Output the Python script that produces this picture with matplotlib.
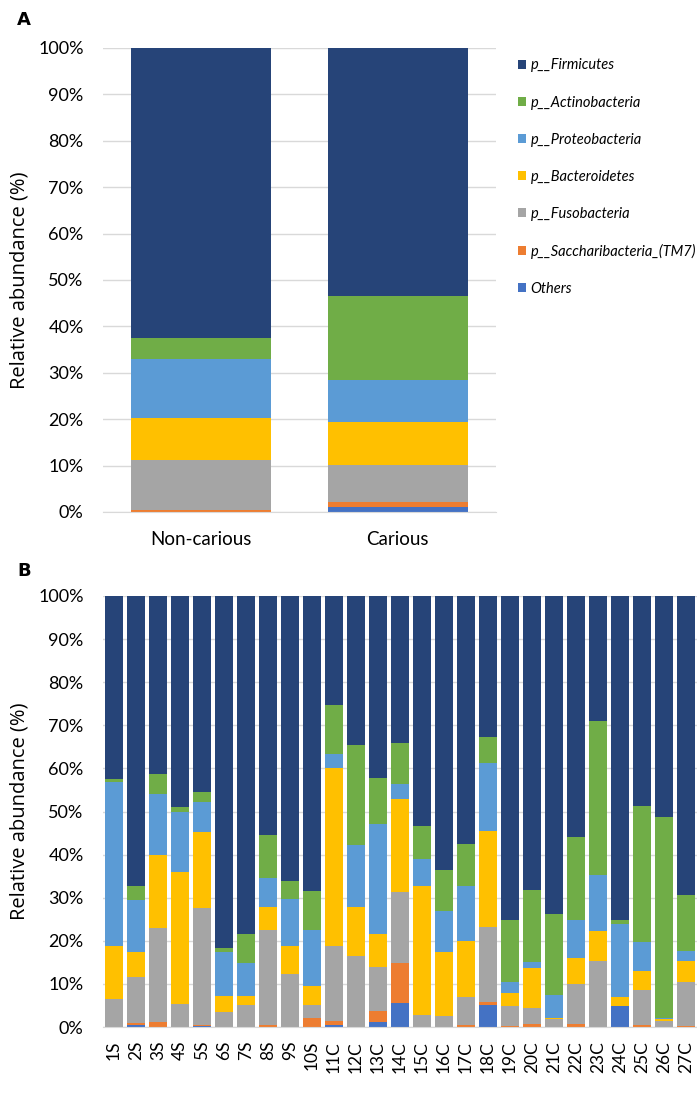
import matplotlib.pyplot as plt
import numpy as np

# phylum labels, bottom -> top stacking order
phyla = ["Others", "p__Saccharibacteria_(TM7)", "p__Fusobacteria",
         "p__Bacteroidetes", "p__Proteobacteria", "p__Actinobacteria",
         "p__Firmicutes"]
colors = ["#4472C4", "#ED7D31", "#A5A5A5", "#FFC000", "#5B9BD5", "#70AD47", "#264478"]

# panel A: group means (%)
groups = ["Non-carious", "Carious"]
others_a = [0.0, 1.1]
tm7_a = [0.5, 1.1]
fuso_a = [10.7, 8.0]
bact_a = [9.1, 9.1]
proteo_a = [12.6, 9.2]
actino_a = [4.6, 18.1]
firm_a = [62.5, 53.4]

# panel B: individual samples (%)
samples = ["1S", "2S", "3S", "4S", "5S", "6S", "7S", "8S", "9S", "10S",
           "11C", "12C", "13C", "14C", "15C", "16C", "17C", "18C", "19C",
           "20C", "21C", "22C", "23C", "24C", "25C", "26C", "27C"]
others_b = [0, 0.4, 0, 0, 0.2, 0, 0, 0, 0, 0,
            0.5, 0, 1.2, 5.6, 0, 0, 0, 5.0, 0,
            0, 0, 0, 0, 4.8, 0, 0, 0]
tm7_b = [0, 0.5, 1.2, 0, 0.2, 0, 0, 0.4, 0, 2.0,
         0.9, 0, 2.5, 9.2, 0, 0, 0.4, 0.7, 0.2,
         0.6, 0, 0.6, 0, 0, 0.4, 0, 0.15]
fuso_b = [6.4, 10.8, 21.7, 5.4, 27.2, 3.5, 5.0, 22.2, 12.4, 3.2,
          17.5, 16.5, 10.2, 16.6, 2.8, 2.5, 6.6, 17.4, 4.7,
          3.9, 1.8, 9.3, 15.3, 0, 8.3, 1.3, 10.25]
bact_b = [12.3, 5.7, 17.1, 30.5, 17.7, 3.6, 2.2, 5.2, 6.3, 4.4,
          41.3, 11.4, 7.6, 21.4, 30.0, 15.0, 13.0, 22.3, 3.1,
          9.1, 0.2, 6.2, 6.9, 2.2, 4.2, 0.6, 4.9]
proteo_b = [38.2, 12.0, 14.1, 14.1, 7.0, 10.3, 7.7, 6.8, 11.0, 12.8,
            3.2, 14.3, 25.5, 3.5, 6.2, 9.4, 12.6, 15.8, 2.5,
            1.5, 5.5, 8.8, 13.1, 17.0, 6.8, 0.2, 2.3]
actino_b = [0.6, 3.4, 4.6, 1.1, 2.2, 0.9, 6.6, 10.0, 4.1, 9.2,
            11.3, 23.3, 10.7, 9.5, 7.6, 9.5, 9.9, 6.1, 14.3,
            16.7, 18.8, 19.2, 35.7, 0.9, 31.6, 46.6, 13.1]


def firm_rest(*cols):
    return list(100 - np.sum(cols, axis=0))


firm_b = firm_rest(others_b, tm7_b, fuso_b, bact_b, proteo_b, actino_b)

plt.rcParams['font.family'] = ['Lato', 'DejaVu Sans']
fig = plt.figure(figsize=(6.97, 10.95), dpi=100)
W, H = 697, 1095


def style_axis(ax):
    ax.set_ylim(0, 100)
    ax.set_yticks(np.arange(0, 101, 10))
    ax.set_yticklabels([f"{v}%" for v in range(0, 101, 10)], fontsize=13)
    ax.yaxis.grid(True, color="#D9D9D9", linewidth=1)
    ax.set_axisbelow(True)
    for s in ["top", "right", "left"]:
        ax.spines[s].set_visible(False)
    ax.spines["bottom"].set_color("#D9D9D9")
    ax.tick_params(axis="y", length=0, pad=14)
    ax.tick_params(axis="x", length=0)
    ax.set_ylabel("Relative abundance (%)", fontsize=14.5, family="Open Sans", labelpad=6)


def stack(ax, x, layers, width):
    bottom = np.zeros(len(x))
    handles = []
    for vals, c, name in zip(layers, colors, phyla):
        h = ax.bar(x, vals, width, bottom=bottom, color=c, label=name, linewidth=0)
        handles.append(h)
        bottom += np.array(vals)
    return handles


# panel A
axA = fig.add_axes([103 / W, 1 - 512 / H, (496 - 103) / W, (512 - 48) / H])
xa = np.arange(len(groups))
hA = stack(axA, xa, [others_a, tm7_a, fuso_a, bact_a, proteo_a, actino_a, firm_a], 0.71)
axA.set_xlim(-0.5, 1.5)
axA.set_xticks(xa)
axA.set_xticklabels(groups, fontsize=13.5)
axA.tick_params(axis="x", pad=14)
style_axis(axA)
leg = axA.legend(handles=hA[::-1], labels=phyla[::-1], loc="upper left",
                 bbox_to_anchor=(1.04, 0.99), frameon=False, fontsize=10.5,
                 handlelength=0.6, handleheight=0.6, handletextpad=0.3,
                 labelspacing=1.58, borderaxespad=0)
for t in leg.get_texts():
    t.set_fontstyle("italic")
fig.text(17 / W, 1 - 20 / H, "A", fontsize=13, fontweight="bold", va="center", family="DejaVu Sans")

# panel B
axB = fig.add_axes([103 / W, 1 - 1027 / H, (697 - 103) / W, (1027 - 596) / H])
xb = np.arange(len(samples))
stack(axB, xb, [others_b, tm7_b, fuso_b, bact_b, proteo_b, actino_b, firm_b], 0.82)
axB.set_xlim(-0.5, len(samples) - 0.5)
axB.set_xticks(xb)
axB.set_xticklabels(samples, rotation=90, fontsize=12.5)
axB.tick_params(axis="x", pad=10)
style_axis(axB)
fig.text(17 / W, 1 - 571 / H, "B", fontsize=13, fontweight="bold", va="center", family="DejaVu Sans")

fig.savefig("out.png", dpi=100)
